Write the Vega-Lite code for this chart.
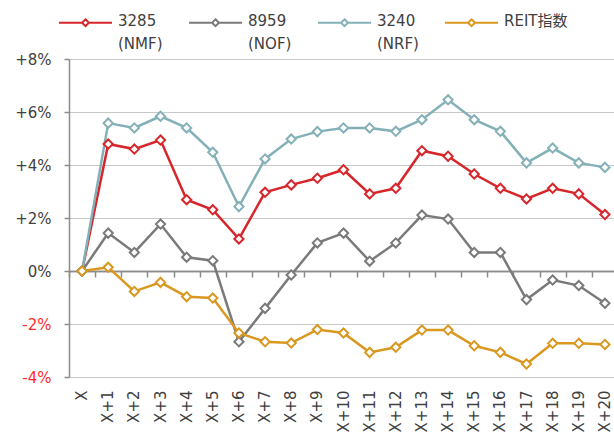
{
  "$schema": "https://vega.github.io/schema/vega-lite/v6.json",
  "width": 549,
  "height": 318,
  "autosize": {"type": "none"},
  "padding": {"left": 69, "top": 59, "right": 0, "bottom": 55},
  "background": "white",
  "config": {"view": {"stroke": null}, "font": "DejaVu Sans, Noto Sans CJK JP"},
  "datasets": {
    "d": [
      {"x": "X", "series": "3285 (NMF)", "value": 0},
      {"x": "X+1", "series": "3285 (NMF)", "value": 4.79},
      {"x": "X+2", "series": "3285 (NMF)", "value": 4.60},
      {"x": "X+3", "series": "3285 (NMF)", "value": 4.94},
      {"x": "X+4", "series": "3285 (NMF)", "value": 2.69},
      {"x": "X+5", "series": "3285 (NMF)", "value": 2.31},
      {"x": "X+6", "series": "3285 (NMF)", "value": 1.21},
      {"x": "X+7", "series": "3285 (NMF)", "value": 2.97},
      {"x": "X+8", "series": "3285 (NMF)", "value": 3.25},
      {"x": "X+9", "series": "3285 (NMF)", "value": 3.50},
      {"x": "X+10", "series": "3285 (NMF)", "value": 3.82},
      {"x": "X+11", "series": "3285 (NMF)", "value": 2.91},
      {"x": "X+12", "series": "3285 (NMF)", "value": 3.12},
      {"x": "X+13", "series": "3285 (NMF)", "value": 4.54},
      {"x": "X+14", "series": "3285 (NMF)", "value": 4.33},
      {"x": "X+15", "series": "3285 (NMF)", "value": 3.66},
      {"x": "X+16", "series": "3285 (NMF)", "value": 3.12},
      {"x": "X+17", "series": "3285 (NMF)", "value": 2.72},
      {"x": "X+18", "series": "3285 (NMF)", "value": 3.12},
      {"x": "X+19", "series": "3285 (NMF)", "value": 2.91},
      {"x": "X+20", "series": "3285 (NMF)", "value": 2.13},
      {"x": "X", "series": "8959 (NOF)", "value": 0},
      {"x": "X+1", "series": "8959 (NOF)", "value": 1.43},
      {"x": "X+2", "series": "8959 (NOF)", "value": 0.70},
      {"x": "X+3", "series": "8959 (NOF)", "value": 1.77},
      {"x": "X+4", "series": "8959 (NOF)", "value": 0.52},
      {"x": "X+5", "series": "8959 (NOF)", "value": 0.39},
      {"x": "X+6", "series": "8959 (NOF)", "value": -2.67},
      {"x": "X+7", "series": "8959 (NOF)", "value": -1.41},
      {"x": "X+8", "series": "8959 (NOF)", "value": -0.15},
      {"x": "X+9", "series": "8959 (NOF)", "value": 1.06},
      {"x": "X+10", "series": "8959 (NOF)", "value": 1.43},
      {"x": "X+11", "series": "8959 (NOF)", "value": 0.37},
      {"x": "X+12", "series": "8959 (NOF)", "value": 1.06},
      {"x": "X+13", "series": "8959 (NOF)", "value": 2.11},
      {"x": "X+14", "series": "8959 (NOF)", "value": 1.96},
      {"x": "X+15", "series": "8959 (NOF)", "value": 0.70},
      {"x": "X+16", "series": "8959 (NOF)", "value": 0.70},
      {"x": "X+17", "series": "8959 (NOF)", "value": -1.08},
      {"x": "X+18", "series": "8959 (NOF)", "value": -0.34},
      {"x": "X+19", "series": "8959 (NOF)", "value": -0.55},
      {"x": "X+20", "series": "8959 (NOF)", "value": -1.22},
      {"x": "X", "series": "3240 (NRF)", "value": 0},
      {"x": "X+1", "series": "3240 (NRF)", "value": 5.58},
      {"x": "X+2", "series": "3240 (NRF)", "value": 5.40},
      {"x": "X+3", "series": "3240 (NRF)", "value": 5.84},
      {"x": "X+4", "series": "3240 (NRF)", "value": 5.40},
      {"x": "X+5", "series": "3240 (NRF)", "value": 4.48},
      {"x": "X+6", "series": "3240 (NRF)", "value": 2.43},
      {"x": "X+7", "series": "3240 (NRF)", "value": 4.23},
      {"x": "X+8", "series": "3240 (NRF)", "value": 4.98},
      {"x": "X+9", "series": "3240 (NRF)", "value": 5.26},
      {"x": "X+10", "series": "3240 (NRF)", "value": 5.40},
      {"x": "X+11", "series": "3240 (NRF)", "value": 5.40},
      {"x": "X+12", "series": "3240 (NRF)", "value": 5.27},
      {"x": "X+13", "series": "3240 (NRF)", "value": 5.71},
      {"x": "X+14", "series": "3240 (NRF)", "value": 6.46},
      {"x": "X+15", "series": "3240 (NRF)", "value": 5.71},
      {"x": "X+16", "series": "3240 (NRF)", "value": 5.27},
      {"x": "X+17", "series": "3240 (NRF)", "value": 4.08},
      {"x": "X+18", "series": "3240 (NRF)", "value": 4.64},
      {"x": "X+19", "series": "3240 (NRF)", "value": 4.08},
      {"x": "X+20", "series": "3240 (NRF)", "value": 3.91},
      {"x": "X", "series": "REIT指数", "value": 0},
      {"x": "X+1", "series": "REIT指数", "value": 0.14},
      {"x": "X+2", "series": "REIT指数", "value": -0.77},
      {"x": "X+3", "series": "REIT指数", "value": -0.43},
      {"x": "X+4", "series": "REIT指数", "value": -0.97},
      {"x": "X+5", "series": "REIT指数", "value": -1.02},
      {"x": "X+6", "series": "REIT指数", "value": -2.34},
      {"x": "X+7", "series": "REIT指数", "value": -2.67},
      {"x": "X+8", "series": "REIT指数", "value": -2.72},
      {"x": "X+9", "series": "REIT指数", "value": -2.21},
      {"x": "X+10", "series": "REIT指数", "value": -2.34},
      {"x": "X+11", "series": "REIT指数", "value": -3.07},
      {"x": "X+12", "series": "REIT指数", "value": -2.88},
      {"x": "X+13", "series": "REIT指数", "value": -2.23},
      {"x": "X+14", "series": "REIT指数", "value": -2.23},
      {"x": "X+15", "series": "REIT指数", "value": -2.82},
      {"x": "X+16", "series": "REIT指数", "value": -3.07},
      {"x": "X+17", "series": "REIT指数", "value": -3.51},
      {"x": "X+18", "series": "REIT指数", "value": -2.73},
      {"x": "X+19", "series": "REIT指数", "value": -2.73},
      {"x": "X+20", "series": "REIT指数", "value": -2.77}
    ]
  },
  "data": {"name": "d"},
  "encoding": {
    "y": {
      "field": "value",
      "type": "quantitative",
      "scale": {"domain": [-4, 8], "nice": false, "zero": false},
      "axis": {
        "title": null,
        "values": [-4, -2, 0, 2, 4, 6, 8],
        "labelExpr": "datum.value > 0 ? '+' + datum.value + '%' : datum.value + '%'",
        "labelFontSize": 15,
        "labelPadding": 13,
        "labelColor": {"condition": {"test": "datum.value < 0", "value": "#FF2A2A"}, "value": "#404040"},
        "domain": true,
        "domainColor": "#8C8C8C",
        "domainWidth": 1.5,
        "ticks": true,
        "tickSize": 5,
        "tickColor": "#8C8C8C",
        "tickWidth": 1.5,
        "grid": true,
        "gridColor": {"condition": {"test": "datum.value === 0", "value": "#8C8C8C"}, "value": "#C8C8C8"},
        "gridWidth": {"condition": {"test": "datum.value === 0", "value": 1.5}, "value": 1.2}
      }
    },
    "color": {
      "field": "series",
      "type": "nominal",
      "scale": {
        "domain": ["3285 (NMF)", "8959 (NOF)", "3240 (NRF)", "REIT指数"],
        "range": ["#D7262B", "#7A7A7A", "#84B1B7", "#D9981F"]
      },
      "legend": {
        "orient": "none",
        "legendX": -11,
        "legendY": -64,
        "direction": "horizontal",
        "columns": 4,
        "title": null,
        "symbolType": "M-1,0H-0.13M0.13,0H1M0,-0.13L0.13,0L0,0.13L-0.13,0Z",
        "symbolSize": 2809,
        "symbolStrokeWidth": 2,
        "symbolFillColor": "white",
        "symbolOpacity": 1,
        "labelFontSize": 15,
        "labelColor": "#404040",
        "labelExpr": "indexof(datum.label, ' ') >= 0 ? split(datum.label, ' ') : [datum.label, ' ']",
        "labelOffset": 5,
        "labelBaseline": "top",
        "columnPadding": 22,
        "encode": {
          "labels": {"update": {"lineHeight": {"value": 23}, "dy": {"value": -9}}}
        }
      }
    }
  },
  "layer": [
    {
      "mark": {"type": "line", "strokeWidth": 2.5},
      "encoding": {
        "x": {
          "field": "x",
          "type": "ordinal",
          "sort": null,
          "scale": {"type": "band", "paddingInner": 0, "paddingOuter": 0},
          "axis": {
            "orient": "bottom",
            "title": null,
            "labelAngle": -90,
            "labelFontSize": 15,
            "labelColor": "#404040",
            "labelPadding": 13,
            "domain": false,
            "ticks": false,
            "grid": false
          }
        }
      }
    },
    {
      "mark": {"type": "point", "shape": "diamond", "filled": false, "fill": "white", "size": 85, "strokeWidth": 2, "opacity": 1},
      "encoding": {
        "x": {
          "field": "x",
          "type": "ordinal",
          "sort": null,
          "axis": {
            "orient": "bottom",
            "offset": -106,
            "title": null,
            "labels": false,
            "domain": true,
            "domainColor": "#8C8C8C",
            "domainWidth": 1.5,
            "ticks": true,
            "tickBand": "extent",
            "tickSize": 6,
            "tickColor": "#8C8C8C",
            "tickWidth": 1.5,
            "grid": false
          }
        }
      }
    }
  ],
  "resolve": {"axis": {"x": "independent"}}
}
